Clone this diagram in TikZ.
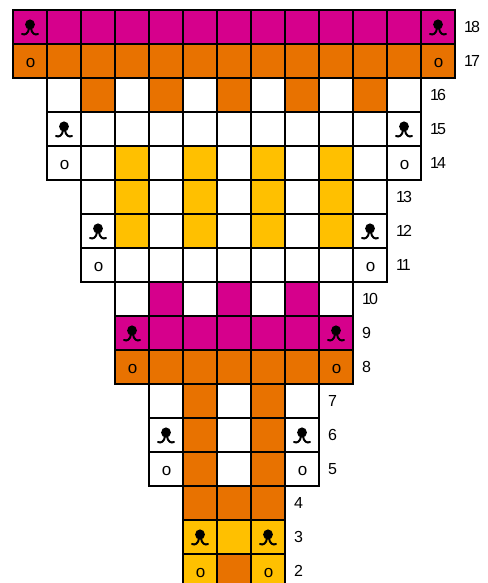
\documentclass[tikz,border=0pt]{standalone}
\usepackage{fontspec}
\setmainfont{Liberation Sans}
\newfontfamily\labfont[LetterSpace=-12]{Liberation Sans}
\definecolor{cmag}{RGB}{214,0,140}
\definecolor{corg}{RGB}{232,114,0}
\definecolor{cyel}{RGB}{255,192,0}
\tikzset{
  M/.style={fill=cmag}, O/.style={fill=corg}, Y/.style={fill=cyel}, W/.style={fill=white},
  cellbox/.style={draw=black, line width=2.2pt},
  rowlabel/.style={anchor=west, inner sep=0pt, font=\labfont\fontsize{16}{16}\selectfont},
  ostitch/.style={inner sep=0pt, font=\fontsize{17}{17}\selectfont},
  bobline/.style={line width=2pt, line cap=round},
}
% #1 row number, #2 index from top, #3 first column, #4 last column, #5 list of fills
\newcommand\chartrow[5]{%
  \foreach \cc [count=\k from #3] in {#5} {
    \path[cellbox,\cc] (13+\k*34, 10+#2*34) rectangle ++(34,34);
  }
  \node[rowlabel] (lab#1) at (13+#4*34+34+9, 10+#2*34+17) {#1};
}
\newcommand\bobble[2]{%
  \fill ({13+#1*34+17}, {10+#2*34+14.5}) ellipse (4.9 and 5.1);
  \draw[bobline] ({13+#1*34+17-1}, {10+#2*34+17+1}) .. controls ({13+#1*34+17-1.5}, {10+#2*34+17+6.5}) and ({13+#1*34+17-5}, {10+#2*34+17+8.5}) .. ({13+#1*34+17-8}, {10+#2*34+17+7});
  \draw[bobline] ({13+#1*34+17+1}, {10+#2*34+17+1}) .. controls ({13+#1*34+17+1.5}, {10+#2*34+17+6.5}) and ({13+#1*34+17+5}, {10+#2*34+17+8.5}) .. ({13+#1*34+17+8}, {10+#2*34+17+7});
}
\newcommand\ost[2]{%
  \node[ostitch] (o#1x#2) at ({13+#1*34+17.5}, {10+#2*34+19}) {o};
}
\begin{document}
\begin{tikzpicture}[x=1pt,y=-1pt]
\useasboundingbox (0,0) rectangle (487,583);
\clip (0,0) rectangle (487,583);
\chartrow{18}{0}{0}{12}{M,M,M,M,M,M,M,M,M,M,M,M,M}
\chartrow{17}{1}{0}{12}{O,O,O,O,O,O,O,O,O,O,O,O,O}
\chartrow{16}{2}{1}{11}{W,O,W,O,W,O,W,O,W,O,W}
\chartrow{15}{3}{1}{11}{W,W,W,W,W,W,W,W,W,W,W}
\chartrow{14}{4}{1}{11}{W,W,Y,W,Y,W,Y,W,Y,W,W}
\chartrow{13}{5}{2}{10}{W,Y,W,Y,W,Y,W,Y,W}
\chartrow{12}{6}{2}{10}{W,Y,W,Y,W,Y,W,Y,W}
\chartrow{11}{7}{2}{10}{W,W,W,W,W,W,W,W,W}
\chartrow{10}{8}{3}{9}{W,M,W,M,W,M,W}
\chartrow{9}{9}{3}{9}{M,M,M,M,M,M,M}
\chartrow{8}{10}{3}{9}{O,O,O,O,O,O,O}
\chartrow{7}{11}{4}{8}{W,O,W,O,W}
\chartrow{6}{12}{4}{8}{W,O,W,O,W}
\chartrow{5}{13}{4}{8}{W,O,W,O,W}
\chartrow{4}{14}{5}{7}{O,O,O}
\chartrow{3}{15}{5}{7}{Y,Y,Y}
\chartrow{2}{16}{5}{7}{Y,O,Y}
\bobble{0}{0}\bobble{12}{0}
\ost{0}{1}\ost{12}{1}
\bobble{1}{3}\bobble{11}{3}
\ost{1}{4}\ost{11}{4}
\bobble{2}{6}\bobble{10}{6}
\ost{2}{7}\ost{10}{7}
\bobble{3}{9}\bobble{9}{9}
\ost{3}{10}\ost{9}{10}
\bobble{4}{12}\bobble{8}{12}
\ost{4}{13}\ost{8}{13}
\bobble{5}{15}\bobble{7}{15}
\ost{5}{16}\ost{7}{16}
\end{tikzpicture}
\end{document}
